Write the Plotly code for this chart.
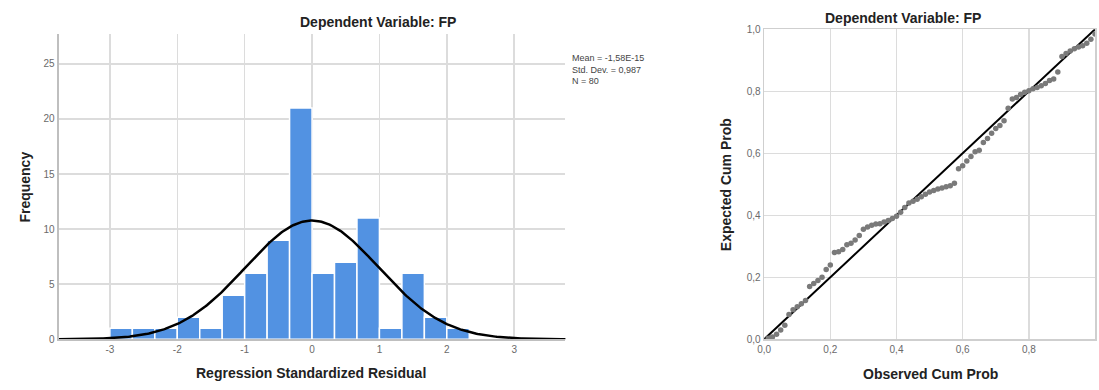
import math
import plotly.graph_objects as go

# ---------------- data ----------------
hist_counts = [1, 1, 1, 2, 1, 4, 6, 9, 21, 6, 7, 11, 1, 6, 2, 1]
hist_bin_start = -3.0
hist_bin_width = 1.0 / 3.0
resid_mean = -1.58e-15
resid_sd = 0.987
resid_n = 80
hist_x_ticks = [-3, -2, -1, 0, 1, 2, 3]
hist_y_ticks = [0, 5, 10, 15, 20, 25]

pp_observed = [0.0125, 0.025, 0.0375, 0.05, 0.0625, 0.075, 0.0875, 0.1, 0.1125, 0.125,
               0.1375, 0.15, 0.1625, 0.175, 0.1875, 0.2, 0.2125, 0.225, 0.2375, 0.25,
               0.2625, 0.275, 0.2875, 0.3, 0.3125, 0.325, 0.3375, 0.35, 0.3625, 0.375,
               0.3875, 0.4, 0.4125, 0.425, 0.4375, 0.45, 0.4625, 0.475, 0.4875, 0.5,
               0.5125, 0.525, 0.5375, 0.55, 0.5625, 0.575, 0.5875, 0.6, 0.6125, 0.625,
               0.6375, 0.65, 0.6625, 0.675, 0.6875, 0.7, 0.7125, 0.725, 0.7375, 0.75,
               0.7625, 0.775, 0.7875, 0.8, 0.8125, 0.825, 0.8375, 0.85, 0.8625, 0.875,
               0.8875, 0.9, 0.9125, 0.925, 0.9375, 0.95, 0.9625, 0.975, 0.9875, 1.0]
pp_expected = [0.003, 0.007, 0.016, 0.03, 0.045, 0.08, 0.095, 0.105, 0.115, 0.125,
               0.17, 0.18, 0.19, 0.2, 0.225, 0.24, 0.28, 0.282, 0.29, 0.305,
               0.31, 0.32, 0.335, 0.355, 0.362, 0.368, 0.372, 0.373, 0.378, 0.383,
               0.39, 0.397, 0.41, 0.425, 0.44, 0.445, 0.452, 0.46, 0.468, 0.475,
               0.48, 0.485, 0.488, 0.492, 0.495, 0.503, 0.55, 0.56, 0.575, 0.59,
               0.605, 0.61, 0.635, 0.648, 0.665, 0.68, 0.69, 0.705, 0.745, 0.775,
               0.78, 0.79, 0.797, 0.802, 0.808, 0.812, 0.818, 0.825, 0.835, 0.84,
               0.862, 0.912, 0.922, 0.93, 0.937, 0.943, 0.947, 0.955, 0.968, 0.985]
pp_ticks = [0.0, 0.2, 0.4, 0.6, 0.8, 1.0]
pp_tick_text = ["0,0", "0,2", "0,4", "0,6", "0,8", "1,0"]

title_text = "Dependent Variable: FP"
stats_text = "Mean = -1,58E-15<br>Std. Dev. = 0,987<br>N = 80"

# ---------------- figure ----------------
W, H = 1099, 390
FONT = "Liberation Sans, Arial, sans-serif"
GRID = "#dcdcdc"

def px_x(p):
    return p / W

def px_y(p):
    return 1 - p / H

fig = go.Figure()

bar_x = [hist_bin_start + (i + 0.5) * hist_bin_width for i in range(len(hist_counts))]
fig.add_trace(go.Bar(
    x=bar_x, y=hist_counts, width=hist_bin_width,
    marker=dict(color="#5292E2", line=dict(color="white", width=1.5)),
    xaxis="x", yaxis="y", hoverinfo="skip",
))

# normal curve from the reported mean / sd / n
xs = [-3.8 + i * 0.02 for i in range(381)]
scale = resid_n * hist_bin_width
ys = [scale * math.exp(-0.5 * ((v - resid_mean) / resid_sd) ** 2) / (resid_sd * math.sqrt(2 * math.pi)) for v in xs]
fig.add_trace(go.Scatter(x=xs, y=ys, mode="lines", line=dict(color="black", width=2.5),
                         xaxis="x", yaxis="y", hoverinfo="skip"))

# P-P plot
fig.add_trace(go.Scatter(x=[0, 1], y=[0, 1], mode="lines", line=dict(color="black", width=2),
                         xaxis="x2", yaxis="y2", hoverinfo="skip"))
fig.add_trace(go.Scatter(x=pp_observed, y=pp_expected, mode="markers",
                         marker=dict(color="#7a7a7a", size=5.5),
                         xaxis="x2", yaxis="y2", hoverinfo="skip"))

tickfont = dict(family=FONT, size=10, color="#6a6a6a")

fig.update_layout(
    width=W, height=H,
    margin=dict(l=0, r=0, t=0, b=0),
    paper_bgcolor="white", plot_bgcolor="white",
    showlegend=False, bargap=0, hovermode=False,
    font=dict(family=FONT),
    xaxis=dict(domain=[px_x(52), px_x(562)], range=[-3.76, 3.76],
               tickvals=hist_x_ticks, ticktext=[str(v) for v in hist_x_ticks],
               showgrid=True, gridcolor=GRID, gridwidth=1.5, zeroline=False,
               showline=True, linecolor="#bfbfbf", linewidth=1.5,
               ticks="", tickfont=tickfont, anchor="y"),
    yaxis=dict(domain=[px_y(344), px_y(30)], range=[0, 27.7],
               tickvals=hist_y_ticks, showgrid=True, gridcolor=GRID, gridwidth=1.5,
               zeroline=False, showline=True, linecolor="#bfbfbf", linewidth=2,
               ticks="", tickfont=tickfont, anchor="x"),
    xaxis2=dict(domain=[px_x(762), px_x(1095)], range=[0, 1],
                tickvals=pp_ticks, ticktext=pp_tick_text,
                showgrid=True, gridcolor=GRID, gridwidth=1.5, zeroline=False,
                showline=True, mirror=True, linecolor="#cfcfcf", linewidth=1.5,
                ticks="", tickfont=tickfont, anchor="y2"),
    yaxis2=dict(domain=[px_y(344), px_y(25)], range=[0, 1],
                tickvals=pp_ticks, ticktext=pp_tick_text,
                showgrid=True, gridcolor=GRID, gridwidth=1.5, zeroline=False,
                showline=True, mirror=True, linecolor="#cfcfcf", linewidth=1.5,
                ticks="", tickfont=tickfont, anchor="x2"),
)

title_font = dict(family=FONT, size=14, color="#222222")
axis_font = dict(family=FONT, size=14, color="#222222")
ann = [
    dict(text="<b>" + title_text + "</b>", x=px_x(373), y=px_y(17), font=title_font),
    dict(text="<b>" + title_text + "</b>", x=px_x(902), y=px_y(13), font=title_font),
    dict(text="<b>Regression Standardized Residual</b>", x=px_x(306), y=px_y(379), font=axis_font),
    dict(text="<b>Frequency</b>", x=px_x(18), y=px_y(187), font=axis_font, textangle=-90),
    dict(text="<b>Observed Cum Prob</b>", x=px_x(929), y=px_y(380), font=axis_font),
    dict(text="<b>Expected Cum Prob</b>", x=px_x(723), y=px_y(185), font=axis_font, textangle=-90),
]
for a in ann:
    a.update(xref="paper", yref="paper", showarrow=False, xanchor="center", yanchor="middle")
    fig.add_annotation(**a)

fig.add_annotation(text=stats_text, x=px_x(567), y=px_y(47), xref="paper", yref="paper",
                   showarrow=False, xanchor="left", yanchor="top", align="left",
                   font=dict(family=FONT, size=9, color="#444444"))

fig.write_html("out.html",
               config={"displayModeBar": False, "staticPlot": True},
               post_script="document.body.style.margin='0';document.body.style.overflow='hidden';")
